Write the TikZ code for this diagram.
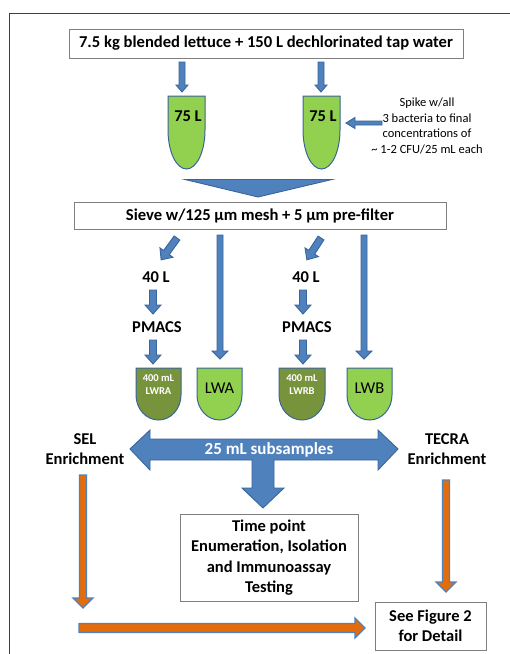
\documentclass[tikz,border=0pt]{standalone}
\usepackage{fontspec}
\setmainfont{Carlito}
\definecolor{ablue}{HTML}{4F81BD}
\definecolor{ablueb}{HTML}{3A659A}
\definecolor{lgreen}{HTML}{92D050}
\definecolor{dgreen}{HTML}{77933C}
\definecolor{aorange}{HTML}{E46C0A}
\definecolor{framec}{HTML}{404040}
\definecolor{boxc}{HTML}{7F7F7F}
\tikzset{
  barrow/.style={fill=ablue, draw=ablueb, line width=0.9pt, line join=miter},
  oarrow/.style={fill=aorange, draw=ablue, line width=1.3pt, line join=miter},
  txtbox/.style={draw=boxc, fill=white, line width=0.9pt, inner sep=0pt, align=center},
  lbl/.style={font=\bfseries\fontsize{16.5}{20.3}\selectfont, align=center, inner sep=0pt},
  plainlbl/.style={font=\fontsize{16.5}{20}\selectfont, align=center, inner sep=0pt},
  smalllbl/.style={font=\bfseries\fontsize{10.5}{13}\selectfont, align=center, inner sep=0pt, text=white},
  tubeshape/.style={draw=ablueb, line width=1pt}
}
% down block arrow: [style] x, ytop, ytip, shaft half width, head half width, head length
\newcommand\mydarrow[7][barrow]{%
  \filldraw[#1] (#2-#5,#3) -- (#2+#5,#3) -- (#2+#5,#4-#7) -- (#2+#6,#4-#7) -- (#2,#4)
    -- (#2-#6,#4-#7) -- (#2-#5,#4-#7) -- cycle;}
% tube: x1, x2, ytop, ymid, ybot, fill
\newcommand\mytube[6]{%
  \filldraw[tubeshape, fill=#6] (#1,#3) -- (#1,#4)
    arc[start angle=180, end angle=0, x radius={(#2-#1)/2}, y radius={#5-#4}] -- (#2,#3) -- cycle;}
\begin{document}
\begin{tikzpicture}[x=1pt, y=-1pt]
\useasboundingbox (0,0) rectangle (510,654);
% frame
\draw[framec, line width=1pt] (9,654) -- (9,13) -- (510,13);

% source box
\node[txtbox, lbl, minimum width=394, minimum height=29] (src) at (266,43.5)
  {\fontsize{16.6}{19}\selectfont 7.5 kg blended lettuce + 150 L dechlorinated tap water};

% arrows to tubes
\mydarrow{182}{62}{92}{3}{6}{7}
\mydarrow{321}{62}{92}{3}{6}{7}

% tubes
\mytube{168}{205}{96}{130}{169}{lgreen}
\mytube{303}{340}{96}{130}{169}{lgreen}
\node[lbl] (t1) at (188,116) {75 L};
\node[lbl] (t2) at (323,116) {75 L};

% spike
\node[inner sep=0pt, align=center, font=\fontsize{12.5}{15.7}\selectfont] (spike) at (427,126)
  {Spike w/all\\3 bacteria to final\\concentrations of\\\textasciitilde{} 1-2 CFU/25 mL each};
\filldraw[barrow] (382,121) -- (355,121) -- (355,117.5) -- (346,123) -- (355,128.5) -- (355,125) -- (382,125) -- cycle;

% big merge arrow
\filldraw[barrow] (185,179.5) -- (332,179.5) -- (258,197) -- cycle;

% sieve box
\node[txtbox, lbl, minimum width=372, minimum height=27] (sieve) at (260,215.5)
  {\fontsize{16.6}{19}\selectfont Sieve w/125 µm mesh + 5 µm pre-filter};

% diagonal arrows
\begin{scope}[shift={(177,238)}, rotate=-36]
  \mydarrow{0}{0}{27}{3.5}{8}{9}
\end{scope}
\begin{scope}[shift={(321,238)}, rotate=-33]
  \mydarrow{0}{0}{26}{3.5}{8}{9}
\end{scope}

% long arrows
\mydarrow{220}{235}{359}{3}{8}{8}
\mydarrow{364}{235}{359}{3}{8}{8}

% 40 L / PMACS
\node[lbl] (f1) at (156,277) {40 L};
\node[lbl] (f2) at (306,277) {40 L};
\mydarrow{153}{290}{314}{3.5}{8}{9}
\mydarrow{303}{290}{314}{3.5}{8}{9}
\node[lbl] (p1) at (157,327) {PMACS};
\node[lbl] (p2) at (307,327) {PMACS};
\mydarrow{153}{340}{364}{3.5}{8}{9}
\mydarrow{303}{340}{364}{3.5}{8}{9}

% containers
\mytube{136}{181}{368}{395}{420}{dgreen}
\mytube{197}{242}{368}{395}{420}{lgreen}
\mytube{279}{325}{368}{395}{420}{dgreen}
\mytube{347}{392}{368}{395}{420}{lgreen}
\node[smalllbl] (lwra) at (158.5,385) {400 mL\\LWRA};
\node[plainlbl] (lwa) at (219.5,388) {LWA};
\node[smalllbl] (lwrb) at (302,385) {400 mL\\LWRB};
\node[plainlbl] (lwb) at (369.5,388) {LWB};

% subsample arrow
\filldraw[barrow] (130,449) -- (150,430) -- (150,439) -- (378,439) -- (378,430) -- (398,449)
  -- (378,470) -- (378,460) -- (274,460) -- (274,488) -- (284,488) -- (263,508) -- (242,488)
  -- (252,488) -- (252,460) -- (150,460) -- (150,470) -- cycle;
\node[lbl, text=white, font=\bfseries\fontsize{17}{20}\selectfont] (sub) at (269,449.5) {25 mL subsamples};

% enrichment labels
\node[lbl] (sel) at (85,449) {SEL\\Enrichment};
\node[lbl] (tecra) at (447,449) {TECRA\\Enrichment};

% orange arrows
\mydarrow[oarrow]{83}{475}{608}{3.5}{10}{10}
\mydarrow[oarrow]{446}{480}{592}{3.5}{10}{10}
\filldraw[oarrow] (79,623.5) -- (355,623.5) -- (355,618) -- (365,628) -- (355,638) -- (355,632.5) -- (79,632.5) -- cycle;

% result boxes
\node[txtbox, lbl, minimum width=178, minimum height=87] (tp) at (269,557.5)
  {Time point\\Enumeration, Isolation\\and Immunoassay\\Testing};
\node[txtbox, lbl, minimum width=111, minimum height=48] (fig) at (430.5,626)
  {See Figure 2\\for Detail};
\end{tikzpicture}
\end{document}
